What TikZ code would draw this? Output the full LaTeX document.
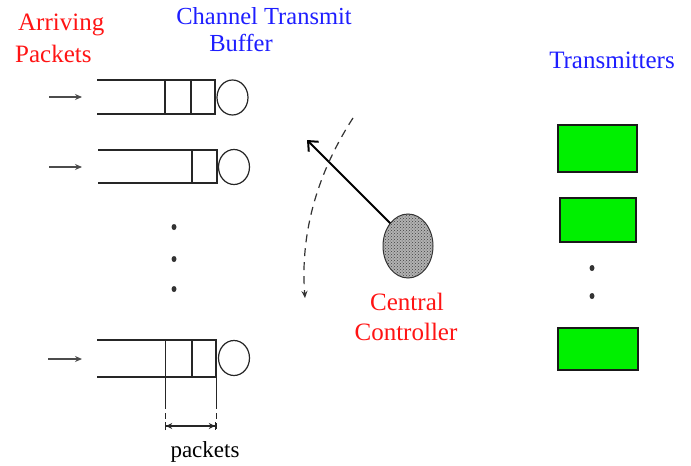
\documentclass[tikz,border=0pt]{standalone}
\usepackage{fontspec}
\setmainfont{Liberation Serif}
\usetikzlibrary{arrows.meta,patterns,shapes.geometric}
\definecolor{lblred}{RGB}{255,20,20}
\definecolor{lblblue}{RGB}{30,30,255}
\definecolor{txgreen}{RGB}{0,240,0}
\begin{document}
\begin{tikzpicture}[x=1pt,y=-1pt,
  lbl/.style={font=\fontsize{25}{27}\selectfont, inner sep=0},
  redlbl/.style={lbl,text=lblred},
  bluelbl/.style={lbl,text=lblblue},
  qline/.style={line width=1.3pt, draw=black!85},
  qdiv/.style={line width=1.5pt, draw=black!85},
  srv/.style={ellipse, draw=black!85, line width=1.2pt, minimum width=31pt, minimum height=35pt, inner sep=0},
  inarrow/.style={line width=1.3pt, draw=black!70, -{Stealth[length=7pt,width=6pt]}},
  txbox/.style={draw=black!90, line width=1.3pt, fill=txgreen},
  dotmark/.style={ellipse, fill=black!80, minimum width=5pt, minimum height=6pt, inner sep=0},
]
\useasboundingbox (0,0) rectangle (691,466);
\fill[white] (0,0) rectangle (691,466);

% labels
\node[redlbl, anchor=base west] (arr) at (18,30) {Arriving};
\node[redlbl, anchor=base west] (pkt) at (15,62) {Packets};
\node[bluelbl, anchor=base, font=\fontsize{24.5}{26}\selectfont] (ctb1) at (264,24) {Channel Transmit};
\node[bluelbl, anchor=base, font=\fontsize{24.5}{26}\selectfont] (ctb2) at (241,51) {Buffer};
\node[bluelbl, anchor=base] (trl) at (612,68) {Transmitters};
\node[redlbl, anchor=base] (cc1) at (407,310) {Central};
\node[redlbl, anchor=base] (cc2) at (406,340) {Controller};
\node[lbl, font=\fontsize{23}{25}\selectfont, anchor=base] (pk) at (205,457) {packets};

% queue 1
\draw[qline] (97,80) -- (215,80) -- (215,114) -- (97,114);
\draw[qdiv] (165,80) -- (165,114);
\draw[qdiv] (191,80) -- (191,114);
\node[srv] (s1) at (232.5,97.5) {};
\coordinate (i1) at (49,97);
\coordinate (q1) at (82,97);
\draw[inarrow] (i1) -- (q1);

% queue 2
\draw[qline] (98,150) -- (217,150) -- (217,183) -- (98,183);
\draw[qdiv] (192,150) -- (192,183);
\node[srv] (s2) at (234,167) {};
\coordinate (i2) at (49,167);
\coordinate (q2) at (82,167);
\draw[inarrow] (i2) -- (q2);

% dots
\node[dotmark] (d1) at (174,227) {};
\node[dotmark] (d2) at (174,259) {};
\node[dotmark] (d3) at (174,289) {};

% queue 3
\draw[qline] (97,340) -- (216,340) -- (216,377) -- (97,377);
\draw[qdiv] (192,340) -- (192,377);
\draw[line width=0.9pt, draw=black!85] (165,340) -- (165,403);
\draw[line width=0.9pt, draw=black!85] (216,377) -- (216,403);
\draw[line width=0.9pt, draw=black!85, dash pattern=on 6pt off 4pt] (165,403) -- (165,432);
\draw[line width=0.9pt, draw=black!85, dash pattern=on 6pt off 4pt] (216,403) -- (216,432);
\node[srv] (s3) at (234,358) {};
\coordinate (i3) at (48,359);
\coordinate (q3) at (82,359);
\draw[inarrow] (i3) -- (q3);
\coordinate (pa) at (165,426);
\coordinate (pb) at (216,426);
\draw[line width=1.2pt, draw=black!85, {Bar[width=8pt]Stealth[length=6pt,width=6pt]}-{Stealth[length=6pt,width=6pt]Bar[width=8pt]}] (pa) -- (pb);

% central controller
\node[ellipse, minimum width=50pt, minimum height=64pt, inner sep=0, fill=black!30] (ctrl) at (408,246) {};
\fill[pattern=crosshatch dots, pattern color=black!75] (ctrl.center) ellipse (24pt and 31pt);
\draw[draw=black!80, line width=1pt] (ctrl.center) ellipse (25pt and 32pt);
\coordinate (tip) at (307,140);
\draw[line width=2pt, -{Straight Barb[length=8pt,width=14pt,line width=2pt]}] (ctrl.north west) -- (tip);
\coordinate (sw0) at (353,118);
\coordinate (sw1) at (305,298);
\draw[line width=1.2pt, draw=black!80, dash pattern=on 8pt off 6pt, -{Stealth[length=7pt,width=6pt]}]
  (sw0) .. controls (318,172) and (300,232) .. (sw1);

% transmitters
\node[txbox, minimum width=79pt, minimum height=47pt, inner sep=0] (t1) at (597.5,148.5) {};
\node[txbox, minimum width=76pt, minimum height=44pt, inner sep=0] (t2) at (598,220) {};
\node[dotmark] (td1) at (592,268) {};
\node[dotmark] (td2) at (592,296) {};
\node[txbox, minimum width=80pt, minimum height=42pt, inner sep=0] (t3) at (598,349) {};
\end{tikzpicture}
\end{document}
